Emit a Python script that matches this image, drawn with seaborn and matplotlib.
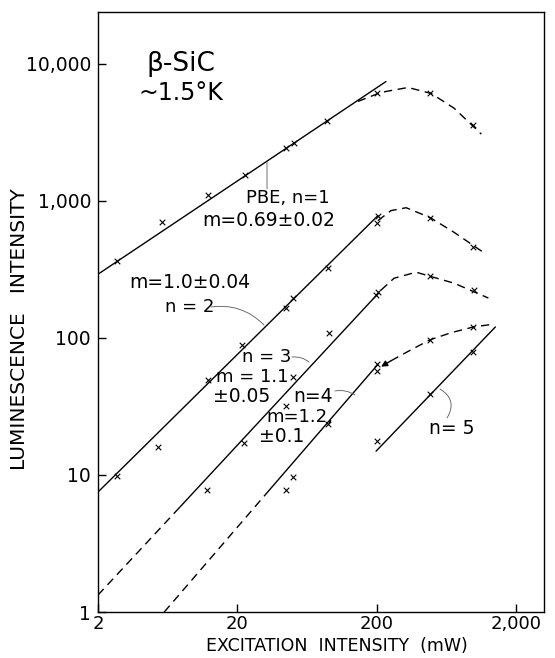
import matplotlib
matplotlib.use("Agg")
import matplotlib.pyplot as plt
import seaborn as sns

# ---------------- data ----------------
# n = 1 (PBE)
n1_line_x = [2, 232]
n1_line_y = [291, 7400]
n1_curve_x = [146, 214, 334, 489, 716, 1120]
n1_curve_y = [5300, 6170, 6700, 6060, 4720, 3060]
n1_pts_x = [2.74, 5.77, 12.2, 22.6, 44.3, 50.6, 87.4, 200, 481, 982]
n1_pts_y = [361, 704, 1110, 1530, 2420, 2630, 3800, 6060, 6060, 3555]

# n = 2
n2_line_x = [2, 203]
n2_line_y = [7.5, 778]
n2_curve_x = [203, 252, 324, 481, 716, 1158]
n2_curve_y = [716, 847, 889, 753, 587, 420]
n2_pts_x = [2.74, 5.4, 12.2, 21.7, 44.3, 49.8, 88.8, 200, 203, 481, 982]
n2_pts_y = [9.8, 16, 49, 88, 165, 195, 321, 693, 778, 753, 456]

# n = 3
n3_dash_x = [2, 7.7]
n3_dash_y = [1.33, 5.8]
n3_line_x = [7.7, 205]
n3_line_y = [5.8, 212]
n3_curve_x = [214, 265, 382, 481, 716, 1258]
n3_curve_y = [223, 272, 301, 281, 250, 195]
n3_pts_x = [12.0, 22.1, 44.3, 49.8, 90.3, 197, 205, 481, 998]
n3_pts_y = [7.7, 17, 32, 52, 109, 205, 215, 281, 223]

# n = 4
n4_dash_x = [5.97, 32.9]
n4_dash_y = [1.0, 7.5]
n4_line_x = [32.9, 203]
n4_line_y = [7.5, 64]
n4_curve_x = [214, 252, 352, 481, 681, 982, 1390]
n4_curve_y = [61.6, 68, 81.9, 96.8, 109, 120, 126]
n4_pts_x = [44.3, 49.8, 88.8, 200, 200, 481, 982]
n4_pts_y = [7.7, 9.7, 23.4, 64, 57, 97, 120]

# n = 5
n5_line_x = [197, 1412]
n5_line_y = [14.9, 120]
n5_pts_x = [200, 481, 982]
n5_pts_y = [17.6, 38.6, 79]

x_ticks = [2, 20, 200, 2000]
x_tick_labels = ["2", "20", "200", "2,000"]
y_ticks = [1, 10, 100, 1000, 10000]
y_tick_labels = ["1", "10", "100", "1,000", "10,000"]

# ---------------- style ----------------
sns.set_style("ticks")
FAM = ["DejaVu Sans"]
plt.rcParams["font.family"] = FAM
plt.rcParams["text.color"] = "black"
plt.rcParams["axes.labelcolor"] = "black"
plt.rcParams["axes.linewidth"] = 1.0

W, H = 555, 658
AX_L, AX_R, AX_T, AX_B = 98, 544, 12, 612
fig = plt.figure(figsize=(W / 100, H / 100), dpi=100)
ax = fig.add_axes([AX_L / W, 1 - AX_B / H, (AX_R - AX_L) / W, (AX_B - AX_T) / H])
ax.set_xscale("log")
ax.set_yscale("log")

LW = 1.0
K = "black"


def solid(xs, ys):
    sns.lineplot(x=xs, y=ys, ax=ax, color=K, lw=LW, sort=False, estimator=None)


def dashed(xs, ys):
    l = sns.lineplot(x=xs, y=ys, ax=ax, color=K, lw=LW, sort=False, estimator=None)
    l.lines[-1].set_dashes((6, 4))


def marks(xs, ys):
    sns.scatterplot(x=xs, y=ys, ax=ax, marker="x", color=K, s=16, linewidth=0.8)


solid(n1_line_x, n1_line_y)
dashed(n1_curve_x, n1_curve_y)
marks(n1_pts_x, n1_pts_y)

solid(n2_line_x, n2_line_y)
dashed(n2_curve_x, n2_curve_y)
marks(n2_pts_x, n2_pts_y)

dashed(n3_dash_x, n3_dash_y)
solid(n3_line_x, n3_line_y)
dashed(n3_curve_x, n3_curve_y)
marks(n3_pts_x, n3_pts_y)

dashed(n4_dash_x, n4_dash_y)
solid(n4_line_x, n4_line_y)
dashed(n4_curve_x[1:], n4_curve_y[1:])
ax.annotate("", xy=(n4_curve_x[0], n4_curve_y[0]), xytext=(n4_curve_x[1], n4_curve_y[1]),
            arrowprops=dict(arrowstyle="-|>", lw=LW, color=K, mutation_scale=9, shrinkA=0, shrinkB=0))
marks(n4_pts_x, n4_pts_y)

solid(n5_line_x, n5_line_y)
marks(n5_pts_x, n5_pts_y)

ax.set_xlim(2, 3150)
ax.set_ylim(1, 23800)
ax.set_xticks(x_ticks)
ax.set_xticklabels(x_tick_labels)
ax.set_yticks(y_ticks)
ax.set_yticklabels(y_tick_labels)
ax.minorticks_off()
ax.tick_params(direction="in", length=6, width=1, colors=K)
ax.tick_params(axis="y", labelsize=13.5, pad=5)
ax.tick_params(axis="x", labelsize=13, pad=2)
for s in ax.spines.values():
    s.set_visible(True)
    s.set_color(K)

ax.set_xlabel("EXCITATION  INTENSITY  (mW)", fontsize=12.5)
ax.set_ylabel("LUMINESCENCE   INTENSITY", fontsize=14.5)
ax.xaxis.set_label_coords(0.535, (AX_B - 637.0) / (AX_B - AX_T))
ax.yaxis.set_label_coords(-0.155, 0.472)


def ftxt(px, py, s, size=13, **kw):
    fig.text(px / W, 1 - py / H, s, ha="center", va="center", fontsize=size, color=K, **kw)


ftxt(181, 64, "β-SiC", size=19)
ftxt(181, 93, "~1.5°K", size=17)
ftxt(288, 198, "PBE, n=1", size=13)
ftxt(269, 220, "m=0.69±0.02", size=13.5)
ftxt(190, 282, "m=1.0±0.04", size=13.5)
ftxt(190, 307, "n = 2", size=13)
ftxt(267, 357, "n = 3", size=13)
ftxt(252, 377, "m = 1.1", size=13)
ftxt(242, 397, "±0.05", size=13.5)
ftxt(313, 396, "n=4", size=13.5)
ftxt(300, 417, "m=1.2,", size=13)
ftxt(282, 437, "±0.1", size=13.5)
ftxt(452, 428, "n= 5", size=13.5)


def leader(p0, p1, rad=0.0):
    ax.annotate("", xy=(p1[0], H - p1[1]), xycoords="figure pixels",
                xytext=(p0[0], H - p0[1]), textcoords="figure pixels",
                arrowprops=dict(arrowstyle="-", lw=0.6, color="0.35",
                                connectionstyle=f"arc3,rad={rad}", shrinkA=0, shrinkB=0))


leader((267, 189), (267, 162))
leader((211, 307), (264, 325), rad=-0.25)
leader((292, 357), (309, 362), rad=-0.2)
leader((335, 391), (355, 395), rad=-0.2)
leader((447, 418), (440, 389), rad=0.5)

fig.savefig("out.png", dpi=100)
